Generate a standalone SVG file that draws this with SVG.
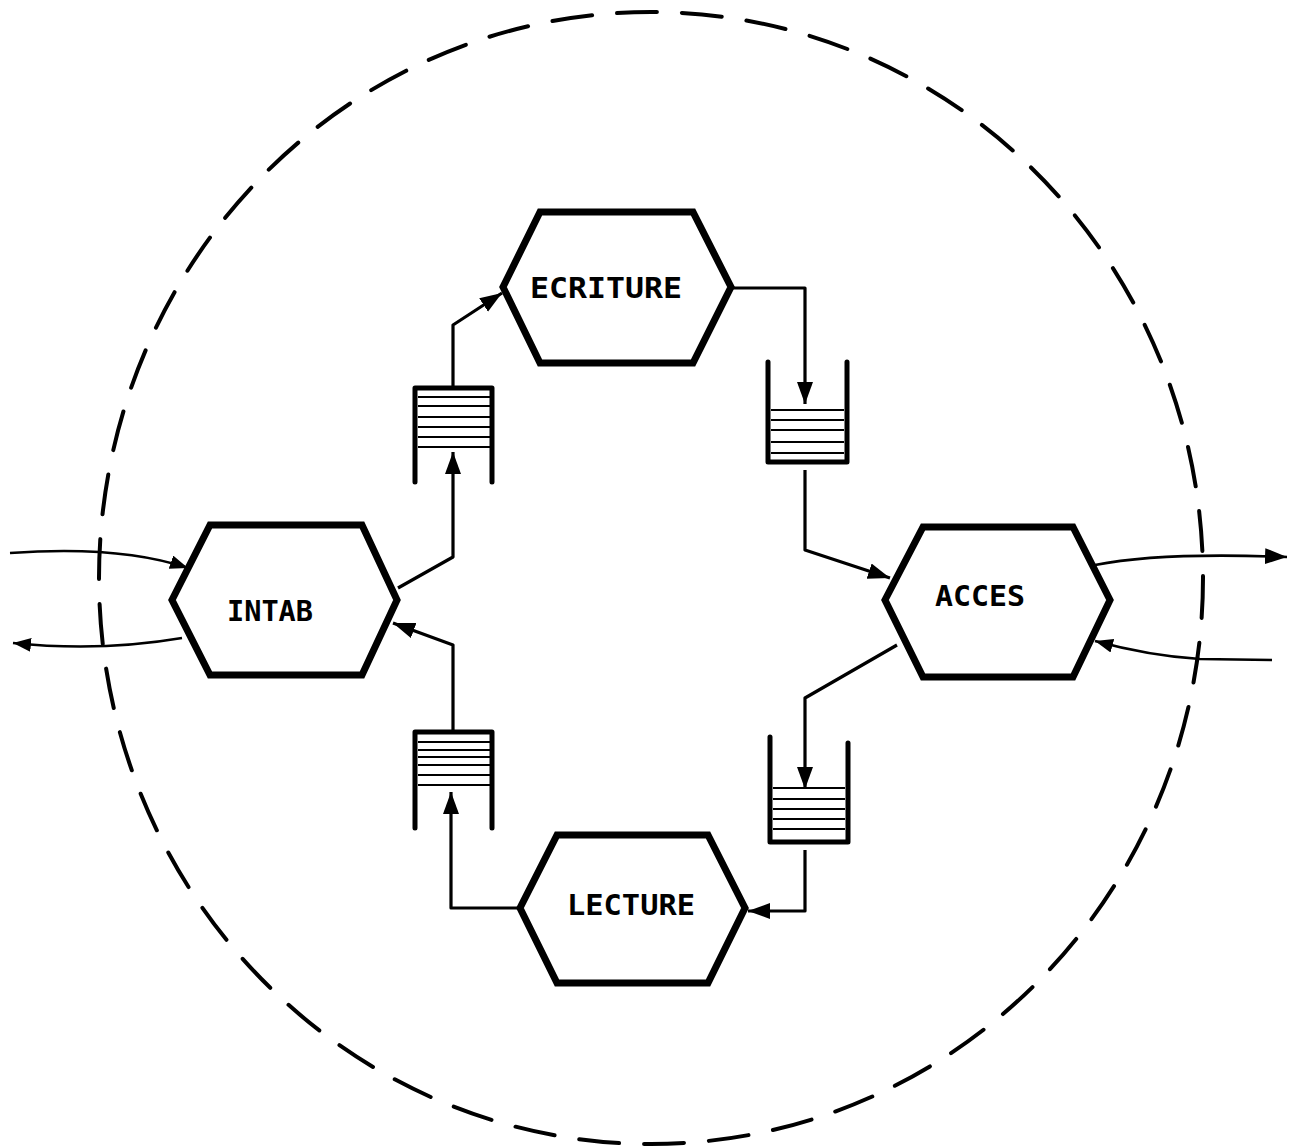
<svg xmlns="http://www.w3.org/2000/svg" width="1293" height="1146" viewBox="0 0 1293 1146">
<style>
.hex{fill:#fff;stroke:#000;stroke-width:7;stroke-linejoin:miter}
.lbl{font-family:"DejaVu Sans Mono","Liberation Mono",monospace;font-size:29px;font-weight:bold;fill:#000;text-anchor:start}
.con{fill:none;stroke:#000;stroke-width:3.2;stroke-linejoin:round}
.ext{fill:none;stroke:#000;stroke-width:2.6}
.qside{fill:none;stroke:#000;stroke-width:5;stroke-linecap:round;stroke-linejoin:round}
.qline{stroke:#000;stroke-width:2}
.bound{fill:none;stroke:#000;stroke-width:4;stroke-dasharray:40 25;stroke-linecap:round}
</style>
<defs>
<marker id="arr" markerUnits="userSpaceOnUse" markerWidth="24" markerHeight="18" refX="22" refY="8" orient="auto">
<path d="M0,0 L22,8 L0,16 Z" fill="#000"/>
</marker>
<marker id="arrs" markerUnits="userSpaceOnUse" markerWidth="20" markerHeight="16" refX="18" refY="7" orient="auto">
<path d="M0,0 L18,7 L0,14 Z" fill="#000"/>
</marker>
</defs>
<rect width="1293" height="1146" fill="#fff"/>
<ellipse class="bound" cx="651" cy="578" rx="552" ry="566"/>

<g id="connectors">
<polyline class="con" points="398,588 453,557 453,452" marker-end="url(#arr)"/>
<polyline class="con" points="453,388 453,325 502,293" marker-end="url(#arr)"/>
<polyline class="con" points="732,288 805,288 805,404" marker-end="url(#arr)"/>
<polyline class="con" points="805,470 805,550 890,578" marker-end="url(#arr)"/>
<polyline class="con" points="897,645 805,698 805,789" marker-end="url(#arr)"/>
<polyline class="con" points="805,850 805,911 748,911" marker-end="url(#arr)"/>
<polyline class="con" points="520,908 451,908 451,792" marker-end="url(#arr)"/>
<polyline class="con" points="453,732 453,645 393,623" marker-end="url(#arr)"/>
<path class="ext" d="M10,553 Q120,545 188,568" marker-end="url(#arrs)"/>
<path class="ext" d="M182,638 Q100,652 13,643" marker-end="url(#arrs)"/>
<path class="ext" d="M1095,565 Q1160,552 1287,557" marker-end="url(#arr)"/>
<path class="ext" d="M1272,660 L1200,659 Q1150,656 1095,641" marker-end="url(#arrs)"/>
</g>

<g id="queue-intab-ecriture">
<rect x="415" y="388" width="77" height="62" fill="#fff"/>
<polyline class="qside" points="415,482 415,388 492,388 492,482"/>
<line class="qline" x1="418" y1="397" x2="490" y2="397"/>
<line class="qline" x1="418" y1="406" x2="490" y2="406"/>
<line class="qline" x1="418" y1="417" x2="490" y2="417"/>
<line class="qline" x1="418" y1="427" x2="490" y2="427"/>
<line class="qline" x1="418" y1="437" x2="490" y2="437"/>
<line class="qline" x1="418" y1="447" x2="490" y2="447"/>
</g>
<g id="queue-ecriture-acces">
<polyline class="qside" points="768,362 768,462 847,462 847,362"/>
<line class="qline" x1="771" y1="410" x2="844" y2="410"/>
<line class="qline" x1="771" y1="420" x2="844" y2="420"/>
<line class="qline" x1="771" y1="430" x2="844" y2="430"/>
<line class="qline" x1="771" y1="442" x2="844" y2="442"/>
<line class="qline" x1="771" y1="453" x2="844" y2="453"/>
</g>
<g id="queue-acces-lecture">
<polyline class="qside" points="770,737 770,842 848,842 848,743"/>
<line class="qline" x1="773" y1="788" x2="845" y2="788"/>
<line class="qline" x1="773" y1="799" x2="845" y2="799"/>
<line class="qline" x1="773" y1="809" x2="845" y2="809"/>
<line class="qline" x1="773" y1="819" x2="845" y2="819"/>
<line class="qline" x1="773" y1="829" x2="845" y2="829"/>
</g>
<g id="queue-lecture-intab">
<polyline class="qside" points="415,828 415,732 492,732 492,828"/>
<line class="qline" x1="418" y1="742" x2="490" y2="742"/>
<line class="qline" x1="418" y1="750" x2="490" y2="750"/>
<line class="qline" x1="418" y1="757" x2="490" y2="757"/>
<line class="qline" x1="418" y1="765" x2="490" y2="765"/>
<line class="qline" x1="418" y1="775" x2="490" y2="775"/>
<line class="qline" x1="418" y1="785" x2="490" y2="785"/>
</g>

<g id="node-intab">
<polygon class="hex" points="210,525 362,525 397,600 362,675 210,675 172,600"/>
<text class="lbl" x="227" y="621" textLength="86" lengthAdjust="spacingAndGlyphs">INTAB</text>
</g>
<g id="node-ecriture">
<polygon class="hex" points="540,212 693,212 731,287 693,363 540,363 503,287"/>
<text class="lbl" x="530" y="298" textLength="152" lengthAdjust="spacingAndGlyphs">ECRITURE</text>
</g>
<g id="node-acces">
<polygon class="hex" points="923,527 1073,527 1110,600 1073,677 923,677 885,600"/>
<text class="lbl" x="935" y="606" textLength="90" lengthAdjust="spacingAndGlyphs">ACCES</text>
</g>
<g id="node-lecture">
<polygon class="hex" points="557,835 708,835 745,908 708,983 557,983 520,908"/>
<text class="lbl" x="567" y="915" textLength="128" lengthAdjust="spacingAndGlyphs">LECTURE</text>
</g>
</svg>
